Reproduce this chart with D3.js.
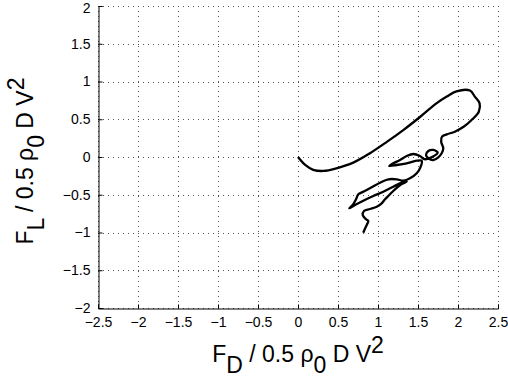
<!DOCTYPE html>
<html>
<head>
<meta charset="utf-8">
<script src="https://cdn.jsdelivr.net/npm/d3@7"></script>
<style>
body{margin:0;background:#fff;}
text{font-family:"Liberation Sans",Arial,Helvetica,sans-serif;}
</style>
</head>
<body>
<script>
var width=508, height=381;
var xTicks=[-2.5,-2,-1.5,-1,-0.5,0,0.5,1,1.5,2,2.5];
var yTicks=[-2,-1.5,-1,-0.5,0,0.5,1,1.5,2];
// drag coefficient (x) and lift coefficient (y)
var cd=[0,0.09,0.19,0.32,0.48,0.69,0.9,1.11,1.32,1.525,1.73,1.86,1.98,2.15,2.21,2.27,2.26,2.17,2.07,1.96,1.86,1.8,1.79,
  1.816,1.796,1.754,1.691,1.629,1.6,1.629,1.691,1.746,1.588,1.525,1.441,1.359,1.275,1.191,1.141,1.234,1.359,1.484,1.546,
  1.534,1.484,1.4,1.316,1.234,1.129,1.025,0.921,0.816,0.754,0.725,0.684,0.641,0.7125,0.816,0.941,1.066,1.191,1.296,1.359,
  1.296,1.2125,1.141,1.0875,1.046,0.984,0.9,0.825,0.809,0.85,0.879,0.859,0.834,0.816];
var cl=[0,-0.105,-0.17,-0.185,-0.15,-0.075,0.05,0.2,0.36,0.53,0.71,0.8,0.87,0.88,0.8,0.71,0.6,0.49,0.4,0.335,0.3,0.27,0.2,
  0.115,0.049,-0.004,-0.04,-0.017,0.026,0.079,0.093,0.057,-0.03,0.013,0.04,0.013,-0.04,-0.083,-0.119,-0.106,-0.083,-0.049,-0.049,
  -0.128,-0.216,-0.282,-0.314,-0.295,-0.295,-0.34,-0.401,-0.46,-0.494,-0.56,-0.636,-0.679,-0.636,-0.579,-0.517,-0.46,-0.393,-0.34,-0.327,
  -0.358,-0.428,-0.503,-0.56,-0.613,-0.658,-0.689,-0.715,-0.768,-0.825,-0.848,-0.9,-0.958,-1.003];

var svg=d3.select("body").append("svg").attr("width",width).attr("height",height);

var x=d3.scaleLinear().domain([-2.5,2.5]).range([98,498]);
var y=d3.scaleLinear().domain([-2,2]).range([308,6]);

//dotted grid
svg.append("g").selectAll("line").data(xTicks).enter().append("line")
  .attr("x1",function(d){return x(d)+0.5}).attr("x2",function(d){return x(d)+0.5})
  .attr("y1",y(2)).attr("y2",y(-2))
  .attr("stroke","#555").attr("stroke-width",1).attr("stroke-dasharray","1,4");
svg.append("g").selectAll("line").data(yTicks).enter().append("line")
  .attr("y1",function(d){return Math.round(y(d))+0.5}).attr("y2",function(d){return Math.round(y(d))+0.5})
  .attr("x1",x(-2.5)).attr("x2",x(2.5))
  .attr("stroke","#555").attr("stroke-width",1).attr("stroke-dasharray","1,4");

//axes, ticks pointing in
var xAxis=d3.axisBottom(x).tickValues(xTicks).tickSize(-4).tickPadding(9).tickFormat(d3.format(""));
var yAxis=d3.axisLeft(y).tickValues(yTicks).tickSize(-4).tickPadding(8).tickFormat(d3.format(""));
var gx=svg.append("g").attr("transform","translate(0,308.5)").call(xAxis);
var gy=svg.append("g").attr("transform","translate(98.5,0)").call(yAxis);
[gx,gy].forEach(function(g){
  g.select(".domain").attr("stroke","#000");
  g.selectAll(".tick line").attr("stroke","#000");
  g.selectAll("text").attr("font-size",14).attr("fill","#000").attr("font-family","Liberation Sans,Arial,sans-serif");
});
gy.selectAll(".tick text").filter(function(d){return d==2}).attr("dy","0.45em");

//the curve
var line=d3.line().x(function(d){return x(d[0])}).y(function(d){return y(d[1])}).curve(d3.curveCatmullRom);
svg.append("path").datum(d3.zip(cd,cl)).attr("d",line)
  .attr("fill","none").attr("stroke","#000").attr("stroke-width",2.3).attr("stroke-linejoin","round");

//axis labels with sub/superscripts
function label(t,sub){
  t.append("tspan").text("F");
  t.append("tspan").attr("dy",11).text(sub);
  t.append("tspan").attr("dy",-11).text(" / 0.5 \u03c1");
  t.append("tspan").attr("dy",11).text("0");
  t.append("tspan").attr("dy",-11).text(" D V");
  t.append("tspan").attr("dy",-9).text("2");
}
var xl=svg.append("text").attr("x",298).attr("y",362).attr("font-size",23).attr("text-anchor","middle");
label(xl,"D");
var yl=svg.append("text").attr("transform","translate(33,161) rotate(-90)").attr("font-size",23).attr("text-anchor","middle");
label(yl,"L");
</script>
</body>
</html>
